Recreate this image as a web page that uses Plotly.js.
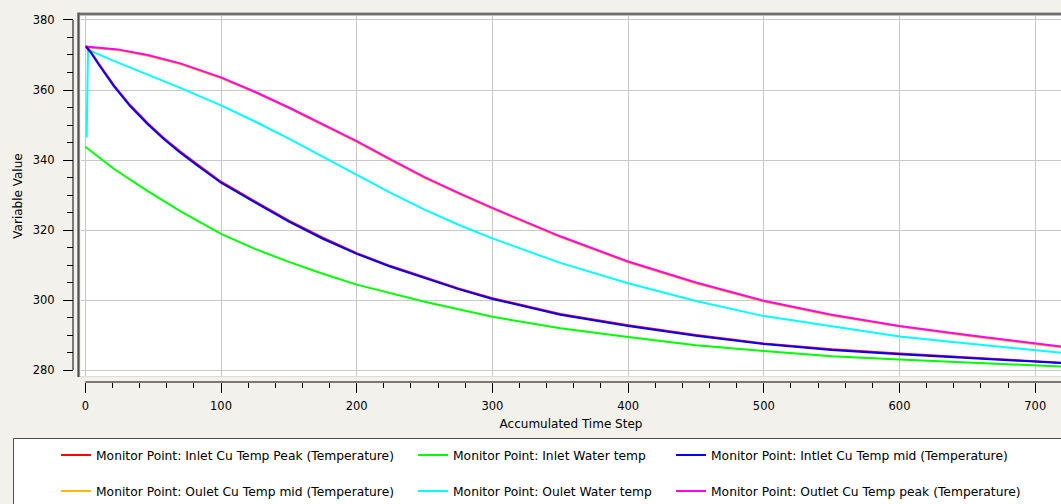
<!DOCTYPE html>
<html>
<head>
<meta charset="utf-8">
<script src="https://cdn.plot.ly/plotly-3.0.1.min.js"></script>
<style>html,body{margin:0;padding:0;background:#F2F1EC;}#chart{width:1061px;height:504px;}</style>
</head>
<body>
<div id="chart"></div>
<script>
// ---- data ----
var tRed = [0.5, 4, 10, 21, 33, 46, 58, 70, 83, 100, 125, 150, 175, 200, 225, 250, 275, 300, 350, 400, 450, 500, 550, 600, 650, 700, 719];
var inletCuPeak = [372.6, 371.0, 367.5, 361.4, 355.7, 350.5, 346.2, 342.4, 338.6, 333.8, 328.2, 322.7, 317.8, 313.4, 309.7, 306.4, 303.3, 300.5, 296.0, 292.8, 290.0, 287.6, 285.9, 284.7, 283.7, 282.5, 282.1];
var tBlue = [0.5, 4, 10, 21, 33, 46, 58, 70, 83, 100, 125, 150, 175, 200, 225, 250, 275, 300, 350, 400, 450, 500, 550, 600, 650, 700, 719];
var inletCuMid = [372.4, 370.7, 367.2, 361.1, 355.4, 350.2, 345.9, 342.1, 338.3, 333.5, 327.9, 322.4, 317.5, 313.2, 309.5, 306.2, 303.1, 300.3, 295.8, 292.6, 289.8, 287.4, 285.7, 284.5, 283.5, 282.4, 282.0];
var tGreen = [0, 21, 46, 70, 100, 125, 150, 175, 200, 250, 300, 350, 400, 450, 500, 550, 600, 650, 700, 719];
var inletWater = [343.8, 337.5, 331.1, 325.4, 318.9, 314.6, 310.9, 307.5, 304.4, 299.5, 295.2, 291.9, 289.4, 287.1, 285.4, 283.9, 283.0, 282.2, 281.4, 281.0];
var tCyan = [1, 2, 21, 46, 70, 100, 125, 150, 175, 200, 225, 250, 275, 300, 350, 400, 450, 500, 550, 600, 650, 700, 719];
var outletWater = [346.4, 371.5, 368.3, 364.4, 360.6, 355.6, 351.0, 346.1, 340.9, 335.7, 330.6, 325.8, 321.5, 317.6, 310.6, 304.8, 299.7, 295.4, 292.4, 289.6, 287.6, 285.7, 284.9];
var tMag = [0, 24, 46, 70, 100, 125, 150, 175, 200, 225, 250, 275, 300, 350, 400, 450, 500, 550, 600, 650, 700, 719];
var outletCuPeak = [372.4, 371.6, 370.0, 367.6, 363.6, 359.5, 355.0, 350.3, 345.4, 340.2, 335.1, 330.6, 326.3, 318.2, 311.0, 305.0, 299.8, 295.8, 292.6, 290.0, 287.6, 286.7];
var tOrange = [0, 24, 46, 70, 100, 125, 150, 175, 200, 225, 250, 275, 300, 350, 400, 450, 500, 550, 600, 650, 700, 719];
var outletCuMid = [372.2, 371.4, 369.8, 367.4, 363.4, 359.3, 354.8, 350.1, 345.2, 340.0, 334.9, 330.4, 326.1, 318.0, 310.8, 304.8, 299.6, 295.6, 292.4, 289.8, 287.4, 286.5];

var names = {
  red: "Monitor Point: Inlet Cu Temp Peak (Temperature)",
  green: "Monitor Point: Inlet Water temp",
  blue: "Monitor Point: Intlet Cu Temp mid (Temperature)",
  orange: "Monitor Point: Oulet Cu Temp mid (Temperature)",
  cyan: "Monitor Point: Oulet Water temp",
  magenta: "Monitor Point: Outlet Cu Temp peak (Temperature)"
};
var xTickVals = [0, 100, 200, 300, 400, 500, 600, 700];
var yTickVals = [280, 300, 320, 340, 360, 380];

// ---- chart ----
function tr(x, y, name, color, legend) {
  return {x: x, y: y, name: name, type: 'scatter', mode: 'lines',
          line: {color: color, width: 2, shape: 'linear'},
          legend: legend, hoverinfo: 'x+y+name'};
}
var data = [
  tr(tGreen, inletWater, names.green, '#00FF00', 'legend2'),
  tr(tCyan, outletWater, names.cyan, '#00FFFF', 'legend5'),
  tr(tOrange, outletCuMid, names.orange, '#FFB900', 'legend4'),
  tr(tMag, outletCuPeak, names.magenta, '#FF00FF', 'legend6'),
  tr(tRed, inletCuPeak, names.red, '#FF0000', 'legend'),
  tr(tBlue, inletCuMid, names.blue, '#0000FF', 'legend3')
];

var W = 1061, H = 504;
var fam = 'DejaVu Sans, Verdana, sans-serif';
var font = {family: fam, size: 12, color: '#000'};
var legFont = {family: fam, size: 12.3, color: '#000'};
var tickFont = {family: fam, size: 11.5, color: '#000'};
var plotL = 73, plotB = 382, plotT = 16, pw = W - plotL, ph = plotB - plotT;
function px2x(p) { return (p - plotL) / pw; }
function py2y(p) { return (plotB - p) / ph; }
function leg(px, py) {
  return {xref: 'paper', yref: 'paper', x: px2x(px), y: py2y(py),
          xanchor: 'left', yanchor: 'middle', bgcolor: 'rgba(0,0,0,0)',
          borderwidth: 0, font: legFont, orientation: 'v'};
}

var layout = {
  width: W, height: H,
  paper_bgcolor: '#F2F1EC', plot_bgcolor: '#FFFFFF',
  margin: {l: plotL, r: 0, t: plotT, b: H - plotB, pad: 0, autoexpand: false},
  font: font,
  showlegend: true,
  xaxis: {
    domain: [px2x(81), 1], range: [-3.17, 719.0],
    anchor: 'free', position: 0, automargin: false,
    tickvals: xTickVals, ticktext: xTickVals.map(String),
    ticks: 'outside', ticklen: 10, tickwidth: 1, tickcolor: '#000',
    minor: {dtick: 20, tick0: 0, ticks: 'outside', ticklen: 5, tickwidth: 1, tickcolor: '#000', showgrid: false},
    showgrid: true, gridcolor: '#C8C8C8', gridwidth: 1,
    zeroline: false, showline: false,
    ticklabelstandoff: 3,
    tickfont: tickFont,
    title: {text: 'Accumulated Time Step', font: font, standoff: 7}
  },
  yaxis: {
    domain: [py2y(376), 1], range: [278.29, 381.14],
    anchor: 'free', position: 0, automargin: false,
    tickvals: yTickVals, ticktext: yTickVals.map(String),
    ticks: 'outside', ticklen: 10, tickwidth: 1, tickcolor: '#000',
    minor: {dtick: 5, tick0: 280, ticks: 'outside', ticklen: 6, tickwidth: 1, tickcolor: '#000', showgrid: false},
    showgrid: true, gridcolor: '#C8C8C8', gridwidth: 1,
    zeroline: false, showline: false,
    ticklabelstandoff: 6,
    tickfont: tickFont,
    title: {text: 'Variable Value', font: font, standoff: 6}
  },
  legend: leg(56, 455),
  legend2: leg(413, 455),
  legend3: leg(671, 455),
  legend4: leg(56, 491),
  legend5: leg(413, 491),
  legend6: leg(671, 491),
  shapes: [
    // axis lines
    {type: 'line', xref: 'paper', yref: 'y', x0: 0, x1: 0, y0: 280, y1: 380, line: {color: '#000', width: 1}},
    {type: 'line', xref: 'x', yref: 'paper', x0: 0, x1: 719, y0: 0, y1: 0, line: {color: '#000', width: 1}},
    // plot frame
    {type: 'line', xref: 'paper', yref: 'paper', x0: px2x(78.5), x1: px2x(78.5), y0: py2y(12.5), y1: py2y(377), line: {color: '#8A8A8A', width: 3}},
    {type: 'line', xref: 'paper', yref: 'paper', x0: px2x(78.5), x1: 1, y0: py2y(14), y1: py2y(14), line: {color: '#8A8A8A', width: 3}},
    {type: 'line', xref: 'paper', yref: 'paper', x0: px2x(78.5), x1: px2x(78.5), y0: py2y(13), y1: py2y(377), line: {color: '#505050', width: 1}},
    {type: 'line', xref: 'paper', yref: 'paper', x0: px2x(78.5), x1: 1, y0: py2y(14), y1: py2y(14), line: {color: '#505050', width: 1}},
    {type: 'line', xref: 'paper', yref: 'paper', x0: px2x(80), x1: 1, y0: py2y(376.5), y1: py2y(376.5), line: {color: '#DCDCDC', width: 1}},
    // legend box
    {type: 'rect', xref: 'paper', yref: 'paper', x0: px2x(13.5), x1: px2x(1070), y0: py2y(438.5), y1: py2y(520),
     fillcolor: '#FFFFFF', line: {color: '#505050', width: 1}, layer: 'below'}
  ]
};

Plotly.newPlot('chart', data, layout, {displayModeBar: false, responsive: false});
</script>
</body>
</html>
